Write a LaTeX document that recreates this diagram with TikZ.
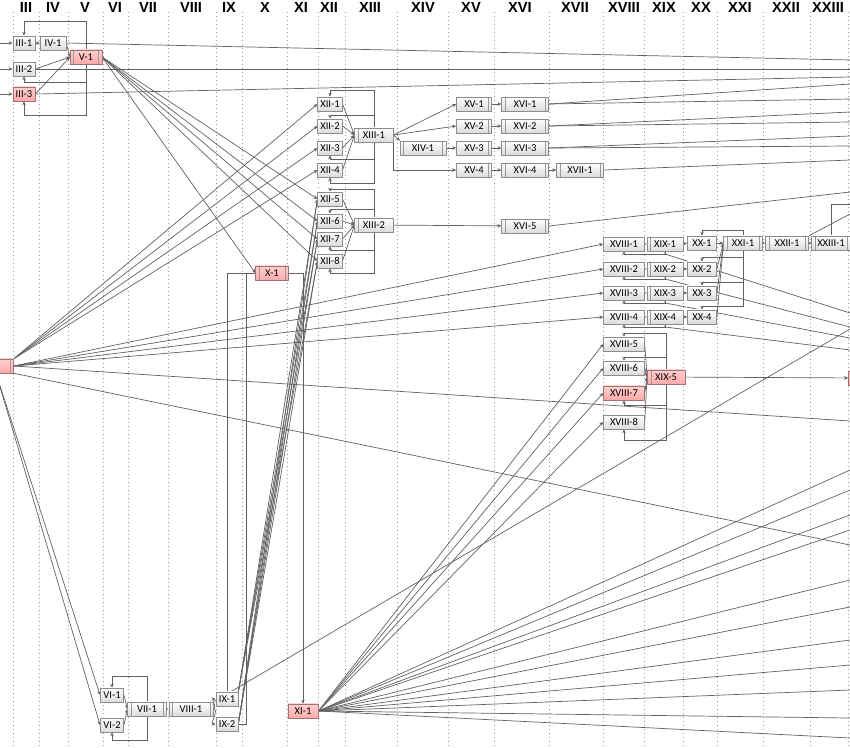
\documentclass[tikz,border=0pt]{standalone}
\usepackage{fontspec}
\setmainfont{Carlito}
\newfontfamily\hdrfont{Liberation Sans}
\usetikzlibrary{arrows.meta}

\pgfdeclarelayer{grid}
\pgfdeclarelayer{wires}
\pgfsetlayers{grid,wires,main}

\definecolor{dotgray}{RGB}{150,150,185}

\tikzset{
  blk/.style={draw=black!45, rectangle, top color=white, bottom color=black!14,
    inner xsep=2pt, inner ysep=1pt, minimum height=12pt, font=\fontsize{9}{10}\selectfont},
  hot/.style={top color=red!18, bottom color=red!34, draw=red!30!black!55},
  wd/.style={minimum width=#1},
  lbar/.style={path picture={\draw[black!40]
    ([xshift=3pt]path picture bounding box.north west) -- ([xshift=3pt]path picture bounding box.south west);}},
  rbar/.style={path picture={\draw[black!40]
    ([xshift=-3pt]path picture bounding box.north east) -- ([xshift=-3pt]path picture bounding box.south east);}},
  bars/.style={path picture={\draw[black!40]
    ([xshift=3pt]path picture bounding box.north west) -- ([xshift=3pt]path picture bounding box.south west)
    ([xshift=-3pt]path picture bounding box.north east) -- ([xshift=-3pt]path picture bounding box.south east);}},
  wire/.style={draw=black!62, line width=0.6pt},
  hdr/.style={font=\hdrfont\bfseries\fontsize{12.5}{13}\selectfont, anchor=base, inner sep=0pt},
  gridline/.style={dash pattern=on 0.8pt off 2.6pt, draw=dotgray, line width=0.8pt}
}

\begin{document}
\begin{tikzpicture}[x=0.03cm,y=-0.03cm,line join=round,line cap=round,>={Stealth[length=3.4pt,width=3pt]}]
\useasboundingbox (0,0) rectangle (850,747);
\clip (0,0) rectangle (850,747);

\begin{pgfonlayer}{grid}
\foreach \x in {13,39,68,103,128,168,216,242,287,318,345,397,448,494,549,603,644,683,717,763,810,848}
  \draw[gridline] (\x,12) -- (\x,747);
\end{pgfonlayer}

\foreach \x/\t in {26/III,53/IV,85/V,115/VI,148/VII,191/VIII,229/IX,265/X,301/XI,329/XII,370/XIII,423/XIV,471/XV,520/XVI,575/XVII,624/XVIII,664/XIX,701/XX,740/XXI,786/XXII,828/XXIII}
  \node[hdr] at (\x,12) {\t};

% columns III--V
\node[blk,wd=19pt] (iii-1) at (24,43) {III-1};
\node[blk,wd=22pt] (iv-1) at (53,43) {IV-1};
\node[blk,wd=19pt] (iii-2) at (24,69) {III-2};
\node[blk,hot,wd=19pt] (iii-3) at (24,94) {III-3};
\node[blk,hot,bars,wd=27pt] (v-1) at (86,57) {V-1};
\node[blk,hot,bars,wd=30pt] (ii-1) at (-4,366) {};

% columns VI--XI
\node[blk,wd=20pt] (vi-1) at (112,695) {VI-1};
\node[blk,wd=20pt] (vi-2) at (112,725) {VI-2};
\node[blk,bars,wd=33pt] (vii-1) at (147,709) {VII-1};
\node[blk,bars,wd=38pt] (viii-1) at (191,709) {VIII-1};
\node[blk,wd=19pt] (ix-1) at (227,699) {IX-1};
\node[blk,wd=19pt] (ix-2) at (227,724) {IX-2};
\node[blk,hot,bars,wd=28pt] (x-1) at (272,273) {X-1};
\node[blk,hot,wd=26pt] (xi-1) at (303,711) {XI-1};

% columns XII--XVII
\foreach \i/\y in {1/104,2/126,3/148,4/170,5/199,6/221,7/239,8/261}
  \node[blk,wd=21pt] (xii-\i) at (330,\y) {XII-\i};
\node[blk,lbar,wd=33pt] (xiii-1) at (374,135) {XIII-1};
\node[blk,lbar,wd=33pt] (xiii-2) at (374,225) {XIII-2};
\node[blk,bars,wd=39pt] (xiv-1) at (423,148) {XIV-1};
\foreach \i/\y in {1/104,2/126,3/148,4/170}
  \node[blk,rbar,wd=30pt] (xv-\i) at (474,\y) {XV-\i};
\foreach \i/\y in {1/104,2/126,3/148,4/170,5/226}
  \node[blk,bars,wd=40pt] (xvi-\i) at (525,\y) {XVI-\i};
\node[blk,bars,wd=40pt] (xvii-1) at (580,170) {XVII-1};

% columns XVIII--XXIII
\foreach \i/\y in {1/244,2/269,3/293,4/317,5/344,6/368,8/422}
  \node[blk,wd=35pt] (xviii-\i) at (624,\y) {XVIII-\i};
\node[blk,hot,wd=35pt] (xviii-7) at (624,393) {XVIII-7};
\foreach \i/\y in {1/244,2/269,3/293,4/317}
  \node[blk,lbar,wd=31pt] (xix-\i) at (665,\y) {XIX-\i};
\node[blk,hot,lbar,wd=32pt] (xix-5) at (666,377) {XIX-5};
\foreach \i/\y in {1/243,2/269,3/293,4/317}
  \node[blk,wd=25pt] (xx-\i) at (702,\y) {XX-\i};
\node[blk,bars,wd=33pt] (xxi-1) at (743,243) {XXI-1};
\node[blk,bars,wd=37pt] (xxii-1) at (787,243) {XXII-1};
\node[blk,bars,wd=33pt] (xxiii-1) at (831,243) {XXIII-1};
\node[blk,hot,bars,wd=30pt] (out-1) at (866,378) {};

% loose ends
\coordinate (in-1) at (0,43);
\coordinate (in-2) at (0,69);
\coordinate (in-3) at (0,94);
\foreach \n/\y in {a/60,b/69,c/77,d/84,e/99,f/112,g/122,h/136,k/146,m/160,n/192,p/214,q/204,r/421,s/545,t/329,u/313,v/327,w/338,z/350}
  \coordinate (e-\n) at (850,\y);
\foreach \n/\y in {1/470,2/490,3/515,4/530,5/580,6/607,7/640,8/665,9/690,10/718,11/738}
  \coordinate (f-\n) at (850,\y);

\begin{pgfonlayer}{wires}
\draw[wire,->] (in-1) -- (iii-1);
\draw[wire,->] (in-2) -- (iii-2);
\draw[wire,->] (in-3) -- (iii-3);
\draw[wire,->] (iii-1) -- (iv-1);
\draw[wire,->] (iv-1.east) -- (v-1.west);
\draw[wire,->] (iii-2.east) -- (v-1.west);
\draw[wire,->] (iii-3.east) -- (v-1.west);
\draw[wire,->] (v-1.north) |- (0,21 -| iii-1) -- (iii-1.north);
\draw[wire,->] (v-1.south) |- (0,82 -| iii-2) -- (iii-2.south);
\draw[wire,->] (v-1.south) |- (0,115 -| iii-3) -- (iii-3.south);
\draw[wire] (iv-1.east) -- (e-a);
\draw[wire] (iii-2.east) -- (e-b);
\draw[wire] (iii-3.east) -- (e-c);

% fan out of V-1 and the left block
\foreach \t in {xii-5,xii-6,xii-7,xii-8,x-1}
  \draw[wire,->] (v-1.east) -- (\t.west);
\foreach \t in {xii-1,xii-2,xii-3,xii-4}
  \draw[wire,->] (ii-1.north east) -- (\t.west);
\foreach \t in {xviii-1,xviii-2,xviii-3,xviii-4}
  \draw[wire,->] (ii-1.east) -- (\t.west);
\draw[wire] (ii-1.east) -- (e-r);
\draw[wire] (ii-1.south east) -- (e-s);
\draw[wire,->] (ii-1.south) -- (vi-1.west);
\draw[wire,->] (ii-1.south) -- (vi-2.west);

% VI--XI
\draw[wire,->] (vi-1.east) -- (vii-1.west);
\draw[wire,->] (vi-2.east) -- (vii-1.west);
\draw[wire,->] (vii-1.north) |- (0,676 -| vi-1) -- (vi-1.north);
\draw[wire,->] (vii-1.south) |- (0,740 -| vi-2) -- (vi-2.south);
\draw[wire,->] (vii-1) -- (viii-1);
\draw[wire,->] (viii-1.east) to[out=0,in=180] (ix-1.west);
\draw[wire,->] (viii-1.east) to[out=0,in=180] (ix-2.west);
\draw[wire] (viii-1.north east) -- (e-t);
\draw[wire] (ix-1.north) |- (x-1.west);
\draw[wire] (ix-2.east) -| ([xshift=-8pt]x-1.west) -- (x-1.west);
\draw[wire,->] (x-1.east) -| (xi-1.north);
\foreach \s in {ix-1.north east,ix-2.east}
  \foreach \t in {xii-5,xii-6,xii-7,xii-8}
    \draw[wire,->] (\s) -- (\t.west);

% XII--XVII
\foreach \i in {1,2,3,4}
  \draw[wire,->] (xii-\i.east) -- (xiii-1.west);
\foreach \i in {5,6,7,8}
  \draw[wire,->] (xii-\i.east) -- (xiii-2.west);
\draw[wire,->] (xiii-1.north) |- (0,90 -| xii-1) -- (xii-1.north);
\draw[wire,->] (xiii-1.north) |- (0,115 -| xii-2) -- (xii-2.north);
\draw[wire,->] (xiii-1.south) |- (0,159 -| xii-3) -- (xii-3.south);
\draw[wire,->] (xiii-1.south) |- (0,183 -| xii-4) -- (xii-4.south);
\draw[wire,->] (xiii-2.north) |- (0,189 -| xii-5) -- (xii-5.north);
\draw[wire,->] (xiii-2.north) |- (0,209 -| xii-6) -- (xii-6.north);
\draw[wire,->] (xiii-2.south) |- (0,250 -| xii-7) -- (xii-7.south);
\draw[wire,->] (xiii-2.south) |- (0,273 -| xii-8) -- (xii-8.south);
\draw[wire,->] (xiii-1.east) -- (xv-1.west);
\draw[wire,->] (xiii-1.east) -- (xv-2.west);
\draw[wire,->] (xiii-1.east) -- (xiv-1.north west);
\draw[wire,->] (xiii-1.south east) |- (xv-4.west);
\draw[wire,->] (xiv-1) -- (xv-3);
\foreach \i in {1,2,3,4}
  \draw[wire,->] (xv-\i) -- (xvi-\i);
\draw[wire,->] (xvi-4) -- (xvii-1);
\draw[wire,->] (xiii-2) -- (xvi-5);
\draw[wire] (xvi-1.east) -- (e-d);
\draw[wire] (xvi-1.east) -- (e-e);
\draw[wire] (xvi-2.east) -- (e-f);
\draw[wire] (xvi-2.east) -- (e-g);
\draw[wire] (xvi-3.east) -- (e-h);
\draw[wire] (xvi-3.east) -- (e-k);
\draw[wire] (xvii-1.east) -- (e-m);
\draw[wire] (xvi-5.east) -- (e-n);

% XVIII--XXIII
\foreach \i in {1,2,3,4} {
  \draw[wire,->] (xviii-\i) -- (xix-\i);
  \draw[wire,->] (xix-\i) -- (xx-\i);
}
\draw[wire,->] (xx-1) -- (xxi-1);
\foreach \i in {2,3,4}
  \draw[wire,->] (xx-\i.east) -- (xxi-1.west);
\draw[wire,->] (xxi-1) -- (xxii-1);
\draw[wire,->] (xxii-1) -- (xxiii-1);
\draw[wire,->] (xxi-1.north) |- (0,230 -| xx-1) -- (xx-1.north);
\draw[wire,->] (xxi-1.south) |- (0,257 -| xx-2) -- (xx-2.north);
\draw[wire,->] (xxi-1.south) |- (0,282 -| xx-3) -- (xx-3.north);
\draw[wire,->] (xxi-1.south) |- (0,306 -| xx-4) -- (xx-4.north);
\draw[wire] (xxii-1.north east) -- (e-p);
\draw[wire] (xxiii-1.north) |- (e-q);
\foreach \i/\y/\e in {1/254/u,2/279/v,3/303/w,4/327/z} {
  \draw[wire,->] (xix-\i.south) |- (0,\y -| xviii-\i) -- (xviii-\i.south);
  \draw[wire] (xix-\i.south) |- (0,\y -| xix-\i) -- (e-\e);
}
\foreach \i in {5,6,7,8}
  \draw[wire,->] (xviii-\i.east) -- (xix-5.west);
\draw[wire,->] (xix-5.north) |- (0,333 -| xviii-5) -- (xviii-5.north);
\draw[wire,->] (xix-5.north) |- (0,357 -| xviii-6) -- (xviii-6.north);
\draw[wire,->] (xix-5.south) |- (0,405 -| xviii-7) -- (xviii-7.south);
\draw[wire,->] (xix-5.south) |- (0,440 -| xviii-8) -- (xviii-8.south);
\draw[wire,->] (xix-5) -- (out-1);

% fan out of XI-1
\foreach \i in {5,6,7,8}
  \draw[wire,->] (xi-1.east) -- (xviii-\i.west);
\foreach \i in {1,...,11}
  \draw[wire] (xi-1.east) -- (f-\i);
\end{pgfonlayer}
\end{tikzpicture}
\end{document}
